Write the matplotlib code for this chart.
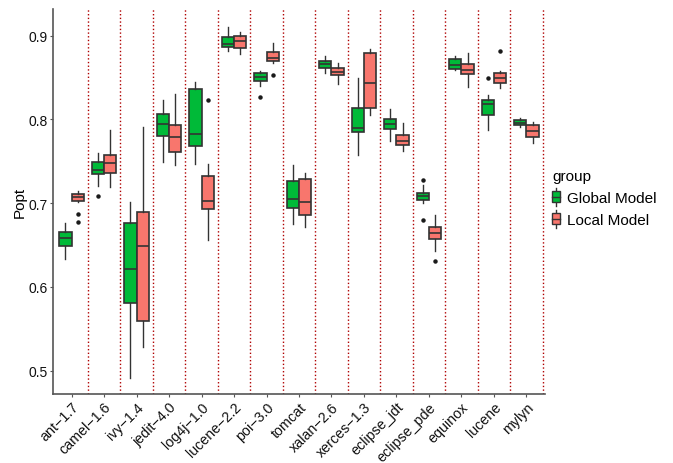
import matplotlib
matplotlib.use("Agg")
import matplotlib.pyplot as plt
from matplotlib.legend_handler import HandlerBase
from matplotlib.patches import Patch, Rectangle
from matplotlib.lines import Line2D

plt.rcParams['font.family'] = ['Liberation Sans', 'DejaVu Sans']

projects = ["ant\u22121.7", "camel\u22121.6", "ivy\u22121.4", "jedit\u22124.0", "log4j\u22121.0",
            "lucene\u22122.2", "poi\u22123.0", "tomcat", "xalan\u22122.6", "xerces\u22121.3",
            "eclipse_jdt", "eclipse_pde", "equinox", "lucene", "mylyn"]

# five-number summaries per project: whisker low, q1, median, q3, whisker high
global_lo  = [0.633, 0.721, 0.491, 0.749, 0.747, 0.882, 0.840, 0.675, 0.856, 0.758, 0.774, 0.700, 0.859, 0.787, 0.791]
global_q1  = [0.649, 0.735, 0.581, 0.780, 0.768, 0.887, 0.846, 0.694, 0.861, 0.785, 0.789, 0.704, 0.860, 0.805, 0.793]
global_med = [0.658, 0.740, 0.621, 0.795, 0.783, 0.890, 0.851, 0.705, 0.866, 0.790, 0.795, 0.708, 0.865, 0.819, 0.796]
global_q3  = [0.665, 0.749, 0.676, 0.807, 0.836, 0.899, 0.855, 0.727, 0.870, 0.814, 0.801, 0.712, 0.872, 0.823, 0.799]
global_hi  = [0.676, 0.760, 0.702, 0.823, 0.845, 0.910, 0.858, 0.746, 0.876, 0.849, 0.813, 0.722, 0.876, 0.829, 0.802]
global_out = [[], [0.708], [], [], [], [], [0.827], [], [], [], [], [0.728, 0.680], [], [0.850], []]

local_lo  = [0.702, 0.719, 0.528, 0.746, 0.656, 0.878, 0.868, 0.671, 0.842, 0.805, 0.762, 0.643, 0.839, 0.838, 0.772]
local_q1  = [0.703, 0.736, 0.559, 0.761, 0.693, 0.886, 0.870, 0.686, 0.853, 0.814, 0.770, 0.657, 0.854, 0.844, 0.779]
local_med = [0.707, 0.748, 0.649, 0.779, 0.703, 0.894, 0.874, 0.702, 0.857, 0.844, 0.774, 0.664, 0.859, 0.849, 0.786]
local_q3  = [0.711, 0.757, 0.690, 0.793, 0.732, 0.900, 0.881, 0.729, 0.861, 0.880, 0.782, 0.671, 0.866, 0.856, 0.794]
local_hi  = [0.715, 0.787, 0.791, 0.830, 0.747, 0.905, 0.891, 0.736, 0.868, 0.884, 0.796, 0.686, 0.880, 0.858, 0.797]
local_out = [[0.687, 0.677], [], [], [], [0.823], [], [0.853], [], [], [], [], [0.631], [], [0.882], []]

groups = ["Global Model", "Local Model"]
colors = ["#00BA38", "#F8766D"]
edge = "#333333"


def make_stats(lo, q1, med, q3, hi, out):
    return [dict(whislo=a, q1=b, med=c, q3=d, whishi=e, fliers=f)
            for a, b, c, d, e, f in zip(lo, q1, med, q3, hi, out)]


stats = [make_stats(global_lo, global_q1, global_med, global_q3, global_hi, global_out),
         make_stats(local_lo, local_q1, local_med, local_q3, local_hi, local_out)]

fig = plt.figure(figsize=(6.73, 4.64), dpi=100)
ax = fig.add_axes([53 / 673, 1 - 395 / 464, 492 / 673, 385 / 464])

width = 0.375
for k, (st, col) in enumerate(zip(stats, colors)):
    pos = [i + (k - 0.5) * width for i in range(len(projects))]
    ax.bxp(st, positions=pos, widths=width, patch_artist=True, manage_ticks=False,
           boxprops=dict(facecolor=col, edgecolor=edge, linewidth=1.2),
           medianprops=dict(color=edge, linewidth=1.2),
           whiskerprops=dict(color=edge, linewidth=1.0),
           capprops=dict(linewidth=0),
           flierprops=dict(marker='o', markersize=2.2, markerfacecolor='#1a1a1a',
                           markeredgecolor='#1a1a1a', linestyle='none'))

# dotted separators between projects
for i in range(len(projects)):
    ax.axvline(i + 0.5, color='#B00000', linestyle=':', linewidth=1.0, zorder=0)

ax.set_xlim(-0.57, len(projects) - 0.43)
ax.set_ylim(0.472, 0.932)
ax.set_xticks(range(len(projects)))
ax.set_xticklabels(projects, rotation=45, ha='right', va='top', rotation_mode='anchor')
ax.set_yticks([0.5, 0.6, 0.7, 0.8, 0.9])
ax.set_yticklabels(["0.5", "0.6", "0.7", "0.8", "0.9"])
ax.tick_params(axis='both', labelsize=10, length=2.5, width=0.8, color='#555555',
               labelcolor='#111111')
ax.tick_params(axis='x', pad=1.5, labelsize=10.3)
ax.tick_params(axis='y', pad=1.5)
for side in ['top', 'right']:
    ax.spines[side].set_visible(False)
for side in ['left', 'bottom']:
    ax.spines[side].set_color('#555555')
    ax.spines[side].set_linewidth(1.2)
ax.set_ylabel("Popt", fontsize=11, labelpad=1)


class BoxKey(HandlerBase):
    def create_artists(self, legend, orig_handle, xdescent, ydescent,
                       width, height, fontsize, trans):
        cx = width / 2 - xdescent
        y0 = -ydescent
        whisker = Line2D([cx, cx], [y0 - 0.15 * height, y0 + 1.15 * height],
                         color=edge, linewidth=1.0, transform=trans)
        box = Rectangle((cx - width / 2, y0 + 0.1 * height), width, 0.8 * height,
                        facecolor=orig_handle.get_facecolor(), edgecolor=edge,
                        linewidth=1.0, transform=trans)
        med = Line2D([cx - width / 2, cx + width / 2], [y0 + 0.5 * height] * 2,
                     color=edge, linewidth=1.0, transform=trans)
        return [whisker, box, med]


handles = [Patch(facecolor=c, label=g) for g, c in zip(groups, colors)]
fig.legend(handles=handles, title="group", loc='upper left',
           bbox_to_anchor=(549 / 673, 1 - 167 / 464), frameon=False,
           fontsize=11, title_fontsize=11, alignment='left',
           handler_map={Patch: BoxKey()}, handlelength=0.5, handleheight=1.0,
           handletextpad=0.45, labelspacing=0.45, borderpad=0.2, borderaxespad=0)

fig.savefig("out.png", dpi=100)
